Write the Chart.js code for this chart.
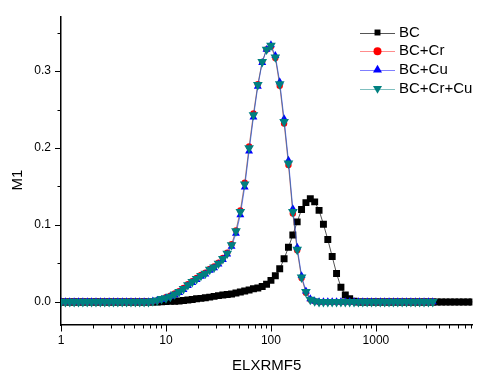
<!DOCTYPE html>
<html>
<head>
<meta charset="utf-8">
<script src="https://cdn.jsdelivr.net/npm/chart.js@4/dist/chart.umd.min.js"></script>
<style>
  html, body { margin: 0; padding: 0; background: #fff; }
  canvas { display: block; }
</style>
</head>
<body>
<canvas id="m1Chart" width="478" height="371"></canvas>
<script>
  // ELXRMF5 values (log spaced, 24 per decade)
  var elxrmf5 = [
    1, 1.101, 1.212, 1.334, 1.468, 1.616, 1.778, 1.957, 2.154, 2.371, 2.610, 2.873,
    3.162, 3.481, 3.831, 4.217, 4.642, 5.109, 5.623, 6.190, 6.813, 7.499, 8.254, 9.085,
    10, 11.01, 12.12, 13.34, 14.68, 16.16, 17.78, 19.57, 21.54, 23.71, 26.10, 28.73,
    31.62, 34.81, 38.31, 42.17, 46.42, 51.09, 56.23, 61.90, 68.13, 74.99, 82.54, 90.85,
    100, 110.1, 121.2, 133.4, 146.8, 161.6, 177.8, 195.7, 215.4, 237.1, 261.0, 287.3,
    316.2, 348.1, 383.1, 421.7, 464.2, 510.9, 562.3, 619.0, 681.3, 749.9, 825.4, 908.5,
    1000, 1101, 1212, 1334, 1468, 1616, 1778, 1957, 2154, 2371, 2610, 2873,
    3162, 3481, 3831, 4217, 4642, 5109, 5623, 6190, 6813, 7499, 8254, 9085,
    10000
  ];

  // M1 values for each sample
  var bc = [
    0, 0, 0, 0, 0, 0, 0, 0, 0, 0, 0, 0,
    0, 0, 0, 0, 0, 0, 0, 0, 0, 0, 0, 0.0002,
    0.0005, 0.0007, 0.0009, 0.0011, 0.0018, 0.0025, 0.0032, 0.004, 0.0046, 0.0053, 0.0062, 0.0072,
    0.0082, 0.0089, 0.0096, 0.0103, 0.0116, 0.013, 0.0142, 0.0155, 0.017, 0.018, 0.020, 0.023,
    0.028, 0.034, 0.043, 0.056, 0.071, 0.087, 0.104, 0.120, 0.129, 0.134, 0.130, 0.119,
    0.101, 0.081, 0.059, 0.037, 0.019, 0.009, 0.004, 0.001, 0, 0, 0, 0,
    0, 0, 0, 0, 0, 0, 0, 0, 0, 0, 0, 0,
    0, 0, 0, 0, 0, 0, 0, 0, 0, 0, 0, 0,
    0
  ];
  var bcCr = [
    0, 0, 0, 0, 0, 0, 0, 0, 0, 0, 0, 0,
    0, 0, 0, 0, 0, 0, 0, 0, 0, 0.001, 0.002, 0.004,
    0.006, 0.008, 0.011, 0.014, 0.018, 0.023, 0.027, 0.031, 0.035, 0.038, 0.043, 0.046,
    0.051, 0.057, 0.064, 0.075, 0.093, 0.119, 0.155, 0.202, 0.245, 0.283, 0.312, 0.328,
    0.332, 0.317, 0.281, 0.232, 0.178, 0.115, 0.067, 0.031, 0.012, 0.003, 0.001, 0,
    0, 0, 0, 0, 0, 0, 0, 0, 0, 0, 0, 0,
    0, 0, 0, 0, 0, 0, 0, 0, 0, 0, 0, 0,
    0, 0
  ];
  var bcCu = [
    0, 0, 0, 0, 0, 0, 0, 0, 0, 0, 0, 0,
    0, 0, 0, 0, 0, 0, 0, 0, 0, 0.001, 0.002, 0.003,
    0.005, 0.007, 0.009, 0.012, 0.016, 0.021, 0.025, 0.029, 0.033, 0.036, 0.041, 0.044,
    0.049, 0.055, 0.062, 0.072, 0.089, 0.113, 0.149, 0.196, 0.240, 0.280, 0.311, 0.328,
    0.334, 0.320, 0.286, 0.238, 0.184, 0.121, 0.071, 0.034, 0.014, 0.004, 0.001, 0,
    0, 0, 0, 0, 0, 0, 0, 0, 0, 0, 0, 0,
    0, 0, 0, 0, 0, 0, 0, 0, 0, 0, 0, 0,
    0, 0
  ];
  var bcCrCu = [
    0, 0, 0, 0, 0, 0, 0, 0, 0, 0, 0, 0,
    0, 0, 0, 0, 0, 0, 0, 0, 0, 0.001, 0.002, 0.004,
    0.005, 0.007, 0.010, 0.013, 0.017, 0.022, 0.026, 0.030, 0.034, 0.037, 0.042, 0.045,
    0.050, 0.056, 0.063, 0.074, 0.092, 0.117, 0.153, 0.200, 0.243, 0.282, 0.312, 0.328,
    0.333, 0.318, 0.283, 0.234, 0.180, 0.117, 0.068, 0.032, 0.013, 0.003, 0.001, 0,
    0, 0, 0, 0, 0, 0, 0, 0, 0, 0, 0, 0,
    0, 0, 0, 0, 0, 0, 0, 0, 0, 0, 0, 0,
    0, 0
  ];

  var seriesNames = ['BC', 'BC+Cr', 'BC+Cu', 'BC+Cr+Cu'];
  var xTickValues = [1, 10, 100, 1000];
  var yTickValues = [0, 0.1, 0.2, 0.3];
  var yMinorTicks = [0.05, 0.15, 0.25, 0.35];

  var fontFamily = 'Arial, "Liberation Sans", sans-serif';
  var xMax = 8300;

  // minor ticks on the log axis: 2..9 in each decade
  var xMinorTicks = [];
  xTickValues.forEach(function (d) {
    for (var m = 2; m <= 9; m++) {
      if (d * m <= xMax) xMinorTicks.push(d * m);
    }
  });

  function toPoints(ys) {
    return ys.map(function (v, i) { return { x: elxrmf5[i], y: v }; });
  }

  // marker + line colors per series
  var styles = [
    { fill: '#000000', line: '#555555', shape: 'rect', radius: 4.9, rotation: 0 },
    { fill: '#ff0000', line: 'rgba(255,0,0,0.45)', shape: 'circle', radius: 3.2, rotation: 0 },
    { fill: '#0000ff', line: 'rgba(0,0,255,0.5)', shape: 'triangle', radius: 4.6, rotation: 0 },
    { fill: '#008080', line: 'rgba(0,128,128,0.5)', shape: 'triangle', radius: 5.6, rotation: 180 }
  ];

  var allSeries = [bc, bcCr, bcCu, bcCrCu];
  var datasets = allSeries.map(function (ys, k) {
    var s = styles[k];
    return {
      label: seriesNames[k],
      data: toPoints(ys),
      borderColor: s.line,
      backgroundColor: s.fill,
      borderWidth: 1,
      pointStyle: s.shape,
      pointRotation: s.rotation,
      pointRadius: s.radius,
      pointBackgroundColor: s.fill,
      pointBorderColor: s.fill,
      pointBorderWidth: 0,
      tension: 0,
      order: 4 - k // BC at the bottom, BC+Cr+Cu on top
    };
  });

  function drawMarker(ctx, shape, r, rotation, x, y) {
    ctx.beginPath();
    if (shape === 'rect') {
      var h = r * Math.SQRT1_2;
      ctx.rect(x - h, y - h, 2 * h, 2 * h);
    } else if (shape === 'circle') {
      ctx.arc(x, y, r, 0, Math.PI * 2);
    } else {
      var a = rotation * Math.PI / 180;
      for (var j = 0; j < 3; j++) {
        var px = x + Math.sin(a) * r, py = y - Math.cos(a) * r;
        if (j === 0) ctx.moveTo(px, py); else ctx.lineTo(px, py);
        a += Math.PI * 2 / 3;
      }
      ctx.closePath();
    }
    ctx.fill();
  }

  // tick marks, y title and the in-plot legend
  var axisExtras = {
    id: 'axisExtras',
    afterDraw: function (chart) {
      var ctx = chart.ctx;
      var xs = chart.scales.x, ys = chart.scales.y, area = chart.chartArea;
      ctx.save();
      ctx.strokeStyle = '#000';
      ctx.lineWidth = 1;
      ctx.beginPath();
      xTickValues.forEach(function (v) {
        var px = Math.round(xs.getPixelForValue(v)) + 0.5;
        ctx.moveTo(px, area.bottom); ctx.lineTo(px, area.bottom + 6.5);
      });
      xMinorTicks.forEach(function (v) {
        var px = Math.round(xs.getPixelForValue(v)) + 0.5;
        ctx.moveTo(px, area.bottom); ctx.lineTo(px, area.bottom + 3.5);
      });
      yTickValues.forEach(function (v) {
        var py = Math.round(ys.getPixelForValue(v)) + 0.5;
        ctx.moveTo(area.left, py); ctx.lineTo(area.left - 6, py);
      });
      yMinorTicks.forEach(function (v) {
        var py = Math.round(ys.getPixelForValue(v)) + 0.5;
        ctx.moveTo(area.left, py); ctx.lineTo(area.left - 3.5, py);
      });
      ctx.stroke();

      // y axis title
      ctx.fillStyle = '#000';
      ctx.font = '15px ' + fontFamily;
      ctx.textAlign = 'center';
      ctx.textBaseline = 'middle';
      ctx.save();
      ctx.translate(17.5, 180);
      ctx.rotate(-Math.PI / 2);
      ctx.fillText('M1', 0, 0);
      ctx.restore();

      // legend
      ctx.textAlign = 'left';
      seriesNames.forEach(function (name, k) {
        var s = styles[k];
        var ly = 32.5 + k * 18.7;
        ctx.strokeStyle = s.line;
        ctx.lineWidth = 1;
        ctx.beginPath();
        ctx.moveTo(360, Math.round(ly) + 0.5);
        ctx.lineTo(395, Math.round(ly) + 0.5);
        ctx.stroke();
        ctx.fillStyle = s.fill;
        drawMarker(ctx, s.shape, s.shape === 'rect' ? 4.2 : (s.shape === 'circle' ? 4 : 5.2), s.rotation, 377.5, ly);
        ctx.fillStyle = '#000';
        ctx.fillText(name, 399, ly);
      });
      ctx.restore();
    }
  };

  var config = {
    type: 'line',
    data: { datasets: datasets },
    options: {
      responsive: false,
      animation: false,
      events: [],
      layout: { padding: { top: 15, left: 0, right: 0, bottom: 0 } },
      plugins: {
        legend: { display: false },
        tooltip: { enabled: false }
      },
      scales: {
        x: {
          type: 'logarithmic',
          position: 'bottom',
          min: 1,
          max: xMax,
          grid: { display: false, drawTicks: false },
          border: { display: true, color: '#000', width: 1.5 },
          ticks: {
            color: '#000',
            font: { size: 12, family: fontFamily },
            padding: 8,
            maxRotation: 0,
            autoSkip: false,
            callback: function (v) { return String(v); }
          },
          afterBuildTicks: function (scale) {
            scale.ticks = xTickValues.map(function (v) { return { value: v }; });
          },
          afterFit: function (scale) { scale.height = 46; },
          title: {
            display: true,
            text: 'ELXRMF5',
            color: '#000',
            font: { size: 15, family: fontFamily, lineHeight: 1 },
            padding: { top: 0, bottom: -2 }
          }
        },
        y: {
          type: 'linear',
          min: -0.03,
          max: 0.37,
          grid: { display: false, drawTicks: false },
          border: { display: true, color: '#000', width: 1.5 },
          ticks: {
            color: '#000',
            font: { size: 12, family: fontFamily },
            padding: 10,
            callback: function (v) { return v.toFixed(1); }
          },
          afterBuildTicks: function (scale) {
            scale.ticks = yTickValues.map(function (v) { return { value: v }; });
          },
          afterFit: function (scale) { scale.width = 61; }
        }
      }
    },
    plugins: [axisExtras]
  };

  var ctx = document.getElementById('m1Chart').getContext('2d');
  var m1Chart = new Chart(ctx, config);
</script>
</body>
</html>
